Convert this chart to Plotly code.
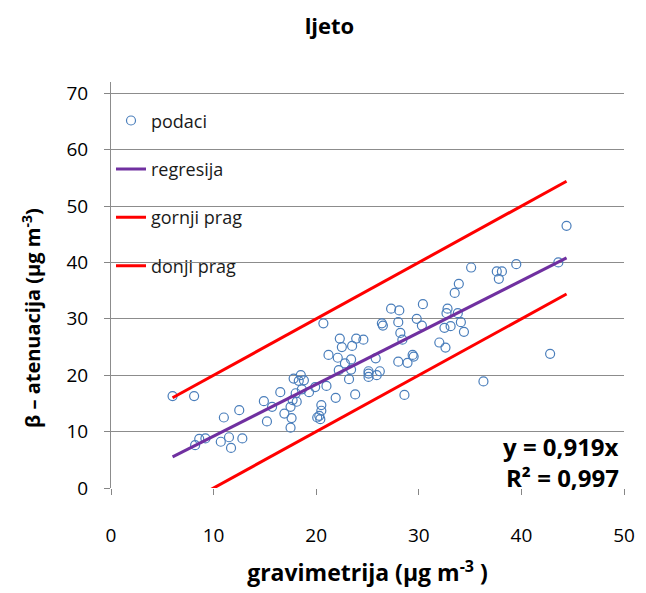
import plotly.graph_objects as go

# gravimetrija (x) and beta-atenuacija (y) measurements, µg m-3
grav = [6.0, 8.1, 11.0, 12.5, 14.9, 15.7, 16.5, 15.2, 16.9, 8.2, 8.6, 9.2, 10.7, 11.5, 11.7, 12.8,
        20.7, 26.4, 26.5, 28.2, 22.3, 23.9, 24.6, 22.5, 23.5, 21.2, 22.1, 23.4, 22.8, 25.8, 28.0,
        22.2, 23.4, 25.1, 25.1, 26.2, 25.1, 25.9, 23.2, 17.8, 18.5, 18.3, 18.8, 18.6, 19.3, 19.9,
        21.0, 18.0, 17.7, 18.1, 17.5, 17.6, 17.5, 21.9, 23.8, 20.5, 20.5, 20.3, 20.1, 20.4, 28.6,
        27.3, 28.1, 28.0, 35.1, 37.6, 38.1, 37.8, 39.5, 33.9, 33.5, 30.4, 32.8, 32.7, 33.8, 29.8,
        30.3, 34.1, 32.5, 33.1, 34.4, 28.4, 32.0, 32.6, 29.4, 29.5, 28.9, 44.4, 43.6, 42.8, 36.3]
beta = [16.3, 16.3, 12.5, 13.8, 15.4, 14.4, 17.0, 11.8, 13.2, 7.6, 8.7, 8.8, 8.2, 9.0, 7.1, 8.8,
        29.2, 29.2, 28.8, 27.5, 26.5, 26.5, 26.3, 25.0, 25.2, 23.6, 23.1, 22.8, 22.1, 23.0, 22.4,
        20.9, 21.0, 20.7, 20.3, 20.7, 19.7, 20.0, 19.3, 19.4, 20.0, 19.0, 19.1, 17.5, 17.0, 17.9,
        18.1, 16.8, 15.6, 15.3, 14.4, 12.4, 10.7, 16.0, 16.6, 14.7, 13.7, 12.8, 12.5, 12.2, 16.5,
        31.8, 31.5, 29.4, 39.1, 38.4, 38.4, 37.1, 39.7, 36.2, 34.6, 32.6, 31.8, 31.0, 31.0, 30.0,
        28.8, 29.4, 28.4, 28.7, 27.7, 26.3, 25.8, 24.9, 23.6, 23.3, 22.2, 46.5, 40.0, 23.8, 18.9]

slope = 0.919
r2 = 0.997
prag = 10.0  # threshold offset

x_line = [min(grav), max(grav)]
reg_y = [slope * v for v in x_line]
upper_y = [v + prag for v in x_line]
lower_y = [v - prag for v in x_line]

x_ticks = [0, 10, 20, 30, 40, 50]
y_ticks = [0, 10, 20, 30, 40, 50, 60, 70]

FONT = "Open Sans"

fig = go.Figure()
fig.add_trace(go.Scatter(x=grav, y=beta, mode="markers", name="podaci", legendgroup="a",
                         marker=dict(symbol="circle-open", size=9, color="#4a7ebb",
                                     line=dict(width=1.2, color="#4a7ebb"))))
fig.add_trace(go.Scatter(x=x_line, y=reg_y, mode="lines", name="regresija", legendgroup="b",
                         line=dict(color="#7030a0", width=3)))
fig.add_trace(go.Scatter(x=x_line, y=upper_y, mode="lines", name="gornji prag", legendgroup="c",
                         line=dict(color="#ff0000", width=3)))
fig.add_trace(go.Scatter(x=x_line, y=lower_y, mode="lines", name="donji prag", legendgroup="d",
                         line=dict(color="#ff0000", width=3)))

fig.add_annotation(x=49.7, y=7.4, xref="x", yref="y", xanchor="right", yanchor="middle",
                   text="<b>y = %sx</b>" % str(slope).replace(".", ","), showarrow=False,
                   font=dict(family=FONT, size=24, color="black"))
fig.add_annotation(x=49.7, y=1.9, xref="x", yref="y", xanchor="right", yanchor="middle",
                   text="<b>R² = %s</b>" % str(r2).replace(".", ","), showarrow=False,
                   font=dict(family=FONT, size=24, color="black"))

# y-axis title as rotated annotation
fig.add_annotation(x=-0.155, y=0.42, xref="paper", yref="paper", xanchor="center",
                   yanchor="middle", textangle=-90, showarrow=False,
                   text="<b>β – atenuacija (µg m<sup>-3</sup>)</b>",
                   font=dict(family=FONT, size=20, color="black"))

fig.update_layout(
    width=646, height=593,
    margin=dict(l=111, r=11, t=82, b=104),
    paper_bgcolor="white", plot_bgcolor="white",
    font=dict(family=FONT, size=19, color="black"),
    title=dict(text="<b>ljeto</b>", x=0.51, xanchor="center", y=0.955, yanchor="middle",
               font=dict(family=FONT, size=22, color="black")),
    legend=dict(x=0.0, y=0.95, xanchor="left", yanchor="top", bgcolor="rgba(0,0,0,0)",
                font=dict(family=FONT, size=18, color="#1a1a1a"), tracegroupgap=22,
                itemwidth=30),
    showlegend=True,
)
fig.update_xaxes(range=[0, 50], tickvals=x_ticks, showgrid=False, zeroline=False,
                 showline=False, ticks="outside", ticklen=6, tickcolor="#868686",
                 ticklabelstandoff=24, tickfont=dict(size=19),
                 title=dict(text="<b>gravimetrija (µg m<sup>-3</sup> )</b>", standoff=18,
                            font=dict(size=23)))
fig.update_yaxes(range=[0, 72], tickvals=y_ticks, showgrid=True, gridcolor="#8c8c8c",
                 gridwidth=1, zeroline=False, showline=True, linecolor="#8c8c8c",
                 ticks="outside", ticklen=6, tickcolor="#868686", ticklabelstandoff=12,
                 tickfont=dict(size=19))

fig.write_html("out.html")
